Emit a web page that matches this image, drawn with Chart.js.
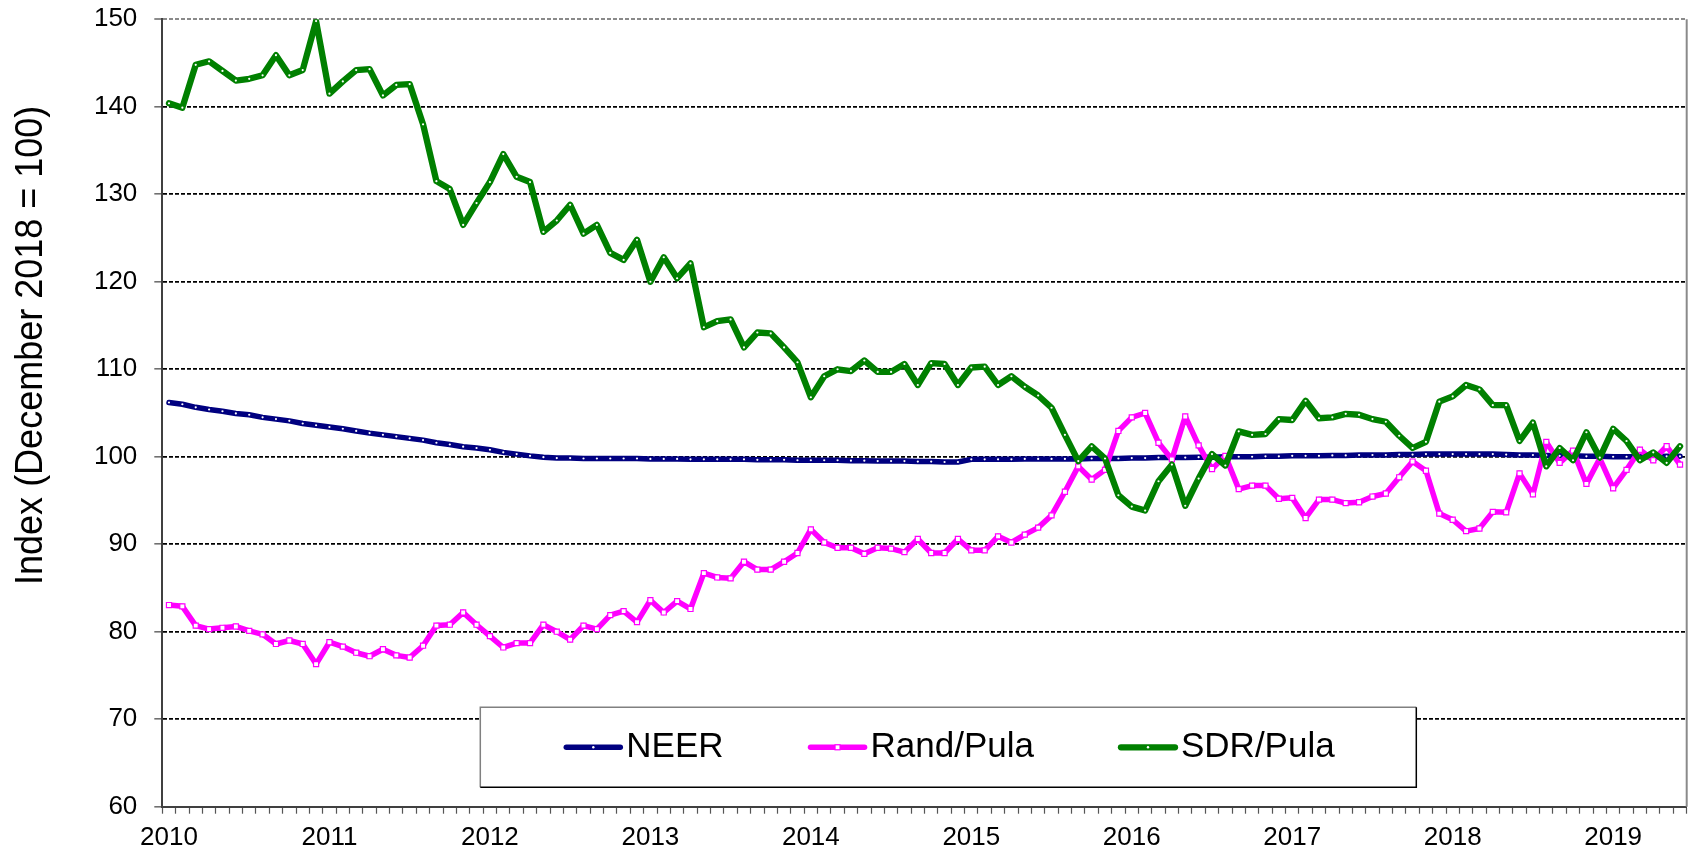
<!DOCTYPE html>
<html>
<head>
<meta charset="utf-8">
<script src="https://cdn.jsdelivr.net/npm/chart.js@4.4.1/dist/chart.umd.min.js"></script>
<style>
html,body{margin:0;padding:0;background:#fff;}
canvas{display:block;}
</style>
</head>
<body>
<canvas id="c" width="1692" height="852"></canvas>
<script>
// ---- data (monthly, Jan 2010 - Jun 2019) ----
const years = ['2010','2011','2012','2013','2014','2015','2016','2017','2018','2019'];
const monthsInLastYear = 6;
const yTicks = [60,70,80,90,100,110,120,130,140,150];
const seriesNames = ['NEER','Rand/Pula','SDR/Pula'];
const yTitle = 'Index (December 2018 = 100)';

const neer = [
  106.2,106.0,105.65,105.4,105.2,104.95,104.8,104.5,104.3,104.1,
  103.8,103.6,103.4,103.2,102.95,102.7,102.5,102.3,102.1,101.9,
  101.6,101.4,101.15,101.0,100.8,100.5,100.3,100.1,99.95,99.85,
  99.85,99.8,99.8,99.8,99.8,99.8,99.75,99.75,99.75,99.7,
  99.7,99.7,99.7,99.7,99.65,99.65,99.65,99.6,99.6,99.6,
  99.6,99.55,99.55,99.5,99.5,99.5,99.45,99.45,99.4,99.4,
  99.7,99.7,99.7,99.7,99.75,99.75,99.75,99.75,99.75,99.8,
  99.8,99.8,99.85,99.85,99.9,99.9,99.9,99.95,99.95,100.0,
  100.0,100.0,100.05,100.05,100.1,100.1,100.1,100.15,100.15,100.2,
  100.2,100.2,100.25,100.25,100.3,100.3,100.3,100.3,100.3,100.3,
  100.25,100.2,100.2,100.15,100.1,100.1,100.05,100.05,100.0,100.0,
  100.0,100.0,100.05,100.05
];
const randPula = [
  83.05,82.9,80.7,80.3,80.45,80.6,80.1,79.7,78.6,79.0,
  78.6,76.3,78.8,78.3,77.6,77.2,78.0,77.3,77.05,78.4,
  80.7,80.8,82.2,80.8,79.5,78.2,78.7,78.7,80.8,80.0,
  79.1,80.7,80.3,81.9,82.35,81.1,83.6,82.2,83.5,82.6,
  86.7,86.2,86.1,88.0,87.1,87.1,88.0,89.0,91.7,90.2,
  89.6,89.6,88.9,89.6,89.5,89.1,90.6,89.0,89.0,90.6,
  89.3,89.3,90.9,90.2,91.1,91.9,93.3,96.0,98.9,97.4,
  98.5,102.95,104.5,105.0,101.6,99.7,104.6,101.3,98.6,100.1,
  96.3,96.7,96.7,95.2,95.3,93.0,95.1,95.1,94.7,94.8,
  95.45,95.8,97.65,99.45,98.4,93.5,92.8,91.5,91.8,93.7,
  93.65,98.1,95.7,101.7,99.3,100.7,96.9,99.8,96.4,98.5,
  100.8,99.6,101.2,99.1
];
const sdrPula = [
  140.4,139.9,144.8,145.2,144.1,143.0,143.2,143.6,145.9,143.6,
  144.2,149.8,141.5,142.9,144.2,144.3,141.3,142.5,142.6,138.0,
  131.5,130.6,126.5,129.0,131.4,134.6,132.0,131.4,125.7,127.0,
  128.8,125.5,126.5,123.3,122.5,124.8,120.0,122.8,120.4,122.1,
  114.8,115.5,115.7,112.5,114.2,114.1,112.5,110.8,106.8,109.2,
  110.0,109.8,111.0,109.7,109.7,110.6,108.2,110.7,110.6,108.2,
  110.2,110.3,108.2,109.2,108.0,107.0,105.6,102.5,99.5,101.2,
  99.8,95.6,94.3,93.85,97.2,99.1,94.4,97.5,100.3,99.0,
  102.9,102.5,102.6,104.3,104.2,106.4,104.4,104.5,104.9,104.8,
  104.3,104.0,102.4,101.0,101.7,106.3,106.9,108.2,107.7,105.9,
  105.9,101.8,103.9,98.9,101.0,99.6,102.8,99.9,103.2,101.8,
  99.6,100.5,99.3,101.2
];
const seriesColors = ['#000080','#FF00FF','#008000'];
const seriesWidths = [5.5, 5.5, 6.3];

// ---- categories ----
const categories = [];
years.forEach((y, k) => {
  const n = (k === years.length - 1) ? monthsInLastYear : 12;
  for (let m = 1; m <= n; m++) categories.push(y + '-' + (m < 10 ? '0' + m : m));
});

const FONT = '"Liberation Sans", Arial, Helvetica, sans-serif';
Chart.defaults.font.family = FONT;
Chart.defaults.color = '#000';

// ---- plugins ----
const frameAndTitle = {
  id: 'frameAndTitle',
  afterDraw(chart) {
    const {ctx, chartArea: ca} = chart;
    ctx.save();
    ctx.strokeStyle = '#8a8a8a';
    ctx.lineWidth = 2;
    ctx.beginPath();
    ctx.moveTo(ca.right, ca.top);
    ctx.lineTo(ca.right, ca.bottom);
    ctx.stroke();
    ctx.translate(ca.left - 131, ca.top + 326);
    ctx.rotate(-Math.PI / 2);
    ctx.scale(1, 1.1);
    ctx.fillStyle = '#000';
    ctx.font = '36px ' + FONT;
    ctx.textAlign = 'center';
    ctx.textBaseline = 'middle';
    ctx.fillText(yTitle, 0, 0);
    ctx.restore();
  }
};

const legendBox = {
  id: 'legendBox',
  afterDraw(chart) {
    const {ctx, chartArea: ca} = chart;
    const x0 = ca.left + 318, y0 = ca.top + 688, w = 936, h = 80;
    ctx.save();
    ctx.fillStyle = '#fff';
    ctx.fillRect(x0, y0, w, h);
    ctx.lineWidth = 1.5;
    ctx.strokeStyle = '#808080';
    ctx.beginPath();
    ctx.moveTo(x0, y0 + h); ctx.lineTo(x0, y0); ctx.lineTo(x0 + w, y0);
    ctx.stroke();
    ctx.strokeStyle = '#000';
    ctx.beginPath();
    ctx.moveTo(x0 + w, y0); ctx.lineTo(x0 + w, y0 + h); ctx.lineTo(x0, y0 + h);
    ctx.stroke();

    ctx.font = '35px ' + FONT;
    ctx.textBaseline = 'middle';
    ctx.textAlign = 'left';
    const cy = y0 + h / 2;
    let x = x0 + 86;
    chart.data.datasets.forEach(ds => {
      ctx.strokeStyle = ds.borderColor;
      ctx.lineWidth = ds.borderWidth;
      ctx.lineCap = 'round';
      ctx.beginPath();
      ctx.moveTo(x, cy); ctx.lineTo(x + 54, cy);
      ctx.stroke();
      const mx = x + 27;
      if (ds.pointStyle === 'rect') {
        ctx.fillStyle = '#fff';
        ctx.strokeStyle = ds.borderColor;
        ctx.lineWidth = 1.2;
        ctx.fillRect(mx - 2.5, cy - 2.5, 5, 5);
        ctx.strokeRect(mx - 2.5, cy - 2.5, 5, 5);
      } else {
        ctx.fillStyle = '#fff';
        ctx.beginPath();
        ctx.arc(mx, cy, 1.2, 0, Math.PI * 2);
        ctx.fill();
      }
      ctx.fillStyle = '#000';
      ctx.fillText(ds.label, x + 60, cy);
      x += 60 + ctx.measureText(ds.label).width + 87;
    });
    ctx.restore();
  }
};

// ---- chart ----
const seriesData = [neer, randPula, sdrPula];
const datasets = seriesData.map((d, k) => {
  const base = {
    label: seriesNames[k],
    data: d,
    borderColor: seriesColors[k],
    borderWidth: seriesWidths[k],
    tension: 0,
    fill: false,
    order: 3 - k,
    pointBackgroundColor: '#fff',
    borderJoinStyle: 'round',
    borderCapStyle: 'round'
  };
  if (k === 1) {
    base.pointStyle = 'rect';
    base.pointRadius = 3.6;
    base.pointBorderColor = seriesColors[k];
    base.pointBorderWidth = 1.2;
  } else {
    base.pointStyle = 'circle';
    base.pointRadius = 1.1;
    base.pointBorderWidth = 0;
    base.pointBorderColor = '#fff';
  }
  return base;
});

new Chart(document.getElementById('c'), {
  type: 'line',
  data: { labels: categories, datasets: datasets },
  options: {
    responsive: false,
    animation: false,
    devicePixelRatio: 1,
    layout: { padding: { top: 19.3, right: 5.3, left: 0, bottom: 0 } },
    plugins: {
      legend: { display: false },
      tooltip: { enabled: false },
      title: { display: false }
    },
    elements: { point: { hoverRadius: 0 } },
    scales: {
      x: {
        type: 'category',
        offset: true,
        grid: {
          display: true,
          offset: true,
          drawOnChartArea: false,
          drawTicks: true,
          tickLength: 7,
          color: '#555',
          tickColor: '#555',
          tickWidth: 1.2,
          tickBorderDash: []
        },
        border: { display: true, color: '#404040', width: 2 },
        ticks: {
          autoSkip: false,
          maxRotation: 0,
          minRotation: 0,
          padding: 9,
          color: '#000',
          font: { size: 26, family: FONT },
          callback(v) {
            const l = this.getLabelForValue(v);
            return l.endsWith('-01') ? l.slice(0, 4) : '';
          }
        },
        afterFit(s) { s.height = 45.3; }
      },
      y: {
        type: 'linear',
        min: yTicks[0],
        max: yTicks[yTicks.length - 1],
        afterBuildTicks(s) { s.ticks = yTicks.map(v => ({ value: v })); },
        grid: {
          display: true,
          drawOnChartArea: true,
          drawTicks: true,
          tickLength: 8,
          tickColor: '#404040',
          tickWidth: 1.2,
          tickBorderDash: [],
          color: c => (c.tick && c.tick.value === 150) ? '#8a8a8a' :
                      (c.tick && c.tick.value === 60) ? 'rgba(0,0,0,0)' : '#000',
          lineWidth: c => (c.tick && c.tick.value === 150) ? 2 : 1.7
        },
        border: { display: true, color: '#404040', width: 2, dash: [4, 2] },
        ticks: {
          padding: 17,
          color: '#000',
          font: { size: 26, family: FONT, lineHeight: 0.1 },
          callback: v => String(v)
        },
        afterFit(s) { s.width = 162.3; }
      }
    }
  },
  plugins: [frameAndTitle, legendBox]
});
</script>
</body>
</html>
